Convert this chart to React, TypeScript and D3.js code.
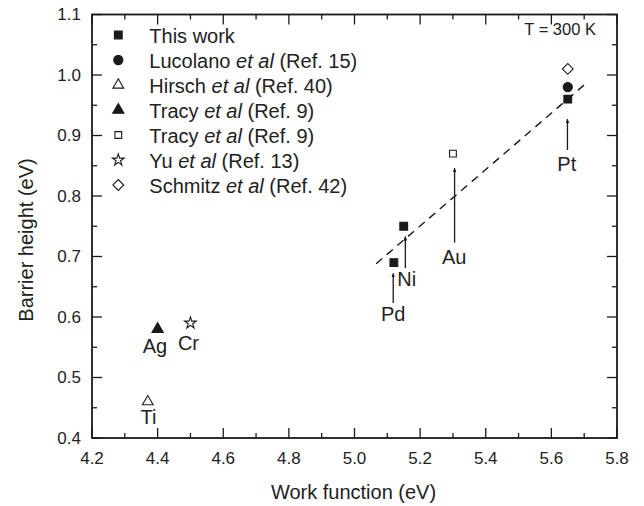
import React from "react";
import * as d3 from "d3";

// ---------- data ----------
const xTicks = [4.2, 4.4, 4.6, 4.8, 5.0, 5.2, 5.4, 5.6, 5.8];
const xMinorTicks = [4.3, 4.5, 4.7, 4.9, 5.1, 5.3, 5.5, 5.7];
const yTicks = [0.4, 0.5, 0.6, 0.7, 0.8, 0.9, 1.0, 1.1];
const yMinorTicks = [0.45, 0.55, 0.65, 0.75, 0.85, 0.95, 1.05];

// series: [workFunction, barrierHeight]
const thisWork = [
  [5.12, 0.69],
  [5.15, 0.75],
  [5.65, 0.96],
];
const lucolano = [[5.65, 0.98]];
const hirsch = [[4.37, 0.46]];
const tracyFilled = [[4.40, 0.58]];
const tracyOpen = [[5.30, 0.87]];
const yu = [[4.50, 0.59]];
const schmitz = [[5.65, 1.01]];

// dashed linear fit endpoints
const fitLine = [
  [5.066, 0.688],
  [5.703, 0.985],
];

// arrow annotations
const arrowMetals = ["Pd", "Ni", "Au", "Pt"];
const arrowX = [5.118, 5.155, 5.305, 5.649];
const arrowBase = [0.623, 0.681, 0.723, 0.876];
const arrowTip = [0.672, 0.733, 0.846, 0.927];
const arrowLabelX = [5.118, 5.159, 5.304, 5.647];
const arrowLabelY = [0.593, 0.651, 0.688, 0.841];

// plain labels (no arrow)
const plainMetals = ["Ag", "Cr", "Ti"];
const plainLabelX = [4.392, 4.494, 4.372];
const plainLabelY = [0.540, 0.5455, 0.423];

const legendLabels = [
  ["This work", "", ""],
  ["Lucolano ", "et al", " (Ref. 15)"],
  ["Hirsch ", "et al", " (Ref. 40)"],
  ["Tracy ", "et al", " (Ref. 9)"],
  ["Tracy ", "et al", " (Ref. 9)"],
  ["Yu ", "et al", " (Ref. 13)"],
  ["Schmitz ", "et al", " (Ref. 42)"],
];

// ---------- layout ----------
const W = 644;
const H = 506;
const left = 92;
const right = 617;
const top = 14.5;
const bottom = 438;
const FONT = "'Liberation Sans', Arial, Helvetica, sans-serif";
const INK = "#1a1a1a";

const x = d3.scaleLinear().domain([4.2, 5.8]).range([left, right]);
const y = d3.scaleLinear().domain([0.4, 1.1]).range([bottom, top]);

type Sym = {
  type: d3.SymbolType;
  size: number;
  fill: string;
  rotate?: number;
};

const symFilledSquare: Sym = { type: d3.symbolSquare, size: 60, fill: INK };
const symFilledCircle: Sym = { type: d3.symbolCircle, size: 66, fill: INK };
const symOpenTriangle: Sym = { type: d3.symbolTriangle, size: 50, fill: "#fff" };
const symFilledTriangle: Sym = { type: d3.symbolTriangle, size: 55, fill: INK };
const symOpenSquare: Sym = { type: d3.symbolSquare, size: 46, fill: "#fff" };
const symOpenStar: Sym = { type: d3.symbolStar, size: 42, fill: "#fff" };
const symOpenDiamond: Sym = { type: d3.symbolSquare, size: 58, fill: "#fff", rotate: 45 };

const legendSyms = [
  symFilledSquare,
  symFilledCircle,
  symOpenTriangle,
  symFilledTriangle,
  symOpenSquare,
  symOpenStar,
  symOpenDiamond,
];

const seriesList: [number[][], Sym][] = [
  [thisWork, symFilledSquare],
  [lucolano, symFilledCircle],
  [hirsch, symOpenTriangle],
  [tracyFilled, symFilledTriangle],
  [tracyOpen, symOpenSquare],
  [yu, symOpenStar],
  [schmitz, symOpenDiamond],
];

function Marker({ s, cx, cy }: { s: Sym; cx: number; cy: number }) {
  const d = d3.symbol().type(s.type).size(s.size)() || "";
  return (
    <path
      d={d}
      transform={`translate(${cx},${cy})${s.rotate ? ` rotate(${s.rotate})` : ""}`}
      fill={s.fill}
      stroke={INK}
      strokeWidth={1.1}
    />
  );
}

export default function App() {
  const line = d3
    .line<number[]>()
    .x((d) => x(d[0]))
    .y((d) => y(d[1]));

  return (
    <svg
      width={W}
      height={H}
      style={{ position: "absolute", left: 0, top: 0, background: "#fff" }}
      fontFamily={FONT}
    >
      <defs>
        <marker
          id="arrowHead"
          viewBox="0 0 10 10"
          refX="9"
          refY="5"
          markerWidth="4.5"
          markerHeight="9"
          orient="auto"
          markerUnits="userSpaceOnUse"
        >
          <path d="M0,1 L10,5 L0,9 Z" fill={INK} />
        </marker>
      </defs>
      <rect x={0} y={0} width={W} height={H} fill="#fff" />

      {/* minor/major ticks */}
      <g stroke={INK} strokeWidth={1.3}>
        {xTicks.map((t) => (
          <g key={"xt" + t}>
            <line x1={x(t)} x2={x(t)} y1={bottom} y2={bottom - 10} />
            <line x1={x(t)} x2={x(t)} y1={top} y2={top + 10} />
          </g>
        ))}
        {xMinorTicks.map((t) => (
          <g key={"xm" + t}>
            <line x1={x(t)} x2={x(t)} y1={bottom} y2={bottom - 5} />
            <line x1={x(t)} x2={x(t)} y1={top} y2={top + 5} />
          </g>
        ))}
        {yTicks.map((t) => (
          <g key={"yt" + t}>
            <line x1={left} x2={left + 10} y1={y(t)} y2={y(t)} />
            <line x1={right} x2={right - 10} y1={y(t)} y2={y(t)} />
          </g>
        ))}
        {yMinorTicks.map((t) => (
          <g key={"ym" + t}>
            <line x1={left} x2={left + 5} y1={y(t)} y2={y(t)} />
            <line x1={right} x2={right - 5} y1={y(t)} y2={y(t)} />
          </g>
        ))}
      </g>

      {/* frame */}
      <rect
        x={left}
        y={top}
        width={right - left}
        height={bottom - top}
        fill="none"
        stroke={INK}
        strokeWidth={1.8}
      />

      {/* tick labels */}
      <g fontSize={17} fill="#222">
        {xTicks.map((t) => (
          <text key={"xl" + t} x={x(t)} y={bottom + 26} textAnchor="middle">
            {t.toFixed(1)}
          </text>
        ))}
        {yTicks.map((t) => (
          <text key={"yl" + t} x={left - 11} y={y(t)} dy="0.35em" textAnchor="end">
            {t.toFixed(1)}
          </text>
        ))}
      </g>

      {/* axis titles */}
      <text x={(left + right) / 2 - 1} y={499} textAnchor="middle" fontSize={20} fill="#222">
        Work function (eV)
      </text>
      <text
        transform={`translate(33,240) rotate(-90)`}
        textAnchor="middle"
        fontSize={20}
        fill="#222"
      >
        Barrier height (eV)
      </text>

      {/* fit line */}
      <path
        d={line(fitLine) || ""}
        fill="none"
        stroke={INK}
        strokeWidth={1.4}
        strokeDasharray="8,6"
      />

      {/* arrows */}
      {arrowMetals.map((m, i) => (
        <g key={"ar" + m}>
          <line
            x1={x(arrowX[i])}
            x2={x(arrowX[i])}
            y1={y(arrowBase[i])}
            y2={y(arrowTip[i])}
            stroke={INK}
            strokeWidth={1.3}
            markerEnd="url(#arrowHead)"
          />
          <text
            x={x(arrowLabelX[i])}
            y={y(arrowLabelY[i])}
            textAnchor="middle"
            fontSize={20}
            fill="#222"
          >
            {m}
          </text>
        </g>
      ))}
      {plainMetals.map((m, i) => (
        <text
          key={"pl" + m}
          x={x(plainLabelX[i])}
          y={y(plainLabelY[i])}
          textAnchor="middle"
          fontSize={20}
          fill="#222"
        >
          {m}
        </text>
      ))}

      {/* data markers */}
      {seriesList.map(([data, s], si) =>
        data.map((d, i) => (
          <Marker key={`m${si}-${i}`} s={s} cx={x(d[0])} cy={y(d[1])} />
        ))
      )}

      {/* T label */}
      <text x={596} y={35} textAnchor="end" fontSize={16.5} fill="#222">
        T = 300 K
      </text>

      {/* legend */}
      {legendLabels.map((lab, i) => {
        const cy = 35 + i * 25;
        return (
          <g key={"lg" + i}>
            <Marker s={legendSyms[i]} cx={118.3} cy={cy} />
            <text x={149.3} y={cy + 7.5} fontSize={20} fill="#222">
              {lab[0]}
              {lab[1] && <tspan fontStyle="italic">{lab[1]}</tspan>}
              {lab[2]}
            </text>
          </g>
        );
      })}
    </svg>
  );
}
